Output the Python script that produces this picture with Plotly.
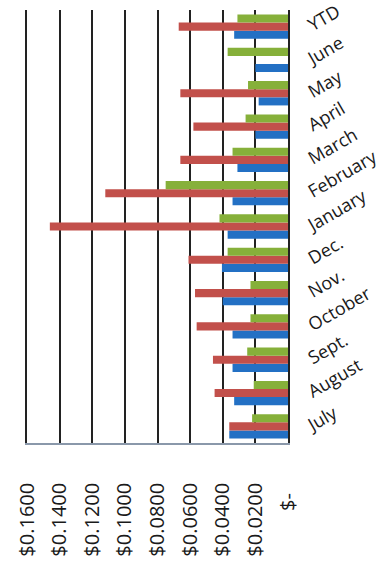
import plotly.graph_objects as go

categories = ["July", "August", "Sept.", "October", "Nov.", "Dec.", "January",
              "February", "March", "April", "May", "June", "YTD"]
blue_vals = [0.036, 0.033, 0.034, 0.034, 0.040, 0.0405, 0.037, 0.034, 0.031, 0.020, 0.018, 0.020, 0.033]
red_vals = [0.036, 0.045, 0.046, 0.056, 0.057, 0.061, 0.146, 0.112, 0.066, 0.058, 0.066, 0.0, 0.067]
green_vals = [0.022, 0.021, 0.025, 0.023, 0.023, 0.037, 0.042, 0.075, 0.034, 0.026, 0.0245, 0.037, 0.031]
tick_vals = [0.16, 0.14, 0.12, 0.10, 0.08, 0.06, 0.04, 0.02, 0.0]
tick_text = ["$0.1600", "$0.1400", "$0.1200", "$0.1000", "$0.0800", "$0.0600",
             "$0.0400", "$0.0200", "$-\u00a0\u00a0"]

fig = go.Figure()
for name, vals, color in [("Series 1", blue_vals, "#2370C4"),
                          ("Series 2", red_vals, "#C2504B"),
                          ("Series 3", green_vals, "#86B03A")]:
    fig.add_trace(go.Bar(y=categories, x=vals, orientation="h", name=name,
                         marker=dict(color=color, line=dict(width=0))))

fig.update_layout(
    width=385, height=571,
    margin=dict(l=27, r=97, t=10, b=128),
    barmode="group", bargap=0.27, bargroupgap=0,
    showlegend=False,
    plot_bgcolor="white", paper_bgcolor="white",
    font=dict(family="Open Sans", color="#1a1a1a"),
)
fig.update_xaxes(
    range=[0.16, 0], tickvals=tick_vals, ticktext=tick_text,
    tickangle=-90, tickfont=dict(size=20, color="#1a1a1a"),
    showgrid=True, gridcolor="#222222", gridwidth=1.5,
    zeroline=False, showline=True, linecolor="#8a98aa", linewidth=1.5,
    ticks="", ticklabelstandoff=30, fixedrange=True, automargin=False,
)
fig.update_yaxes(
    type="category", categoryorder="array", categoryarray=categories,
    side="right", tickangle=-30, tickfont=dict(size=18, color="#1a1a1a"),
    showgrid=False, zeroline=False, showline=True, mirror=True,
    linecolor="#222222", linewidth=1.5, ticks="",
    ticklabelstandoff=15, automargin=False,
)
fig.write_html("out.html")
